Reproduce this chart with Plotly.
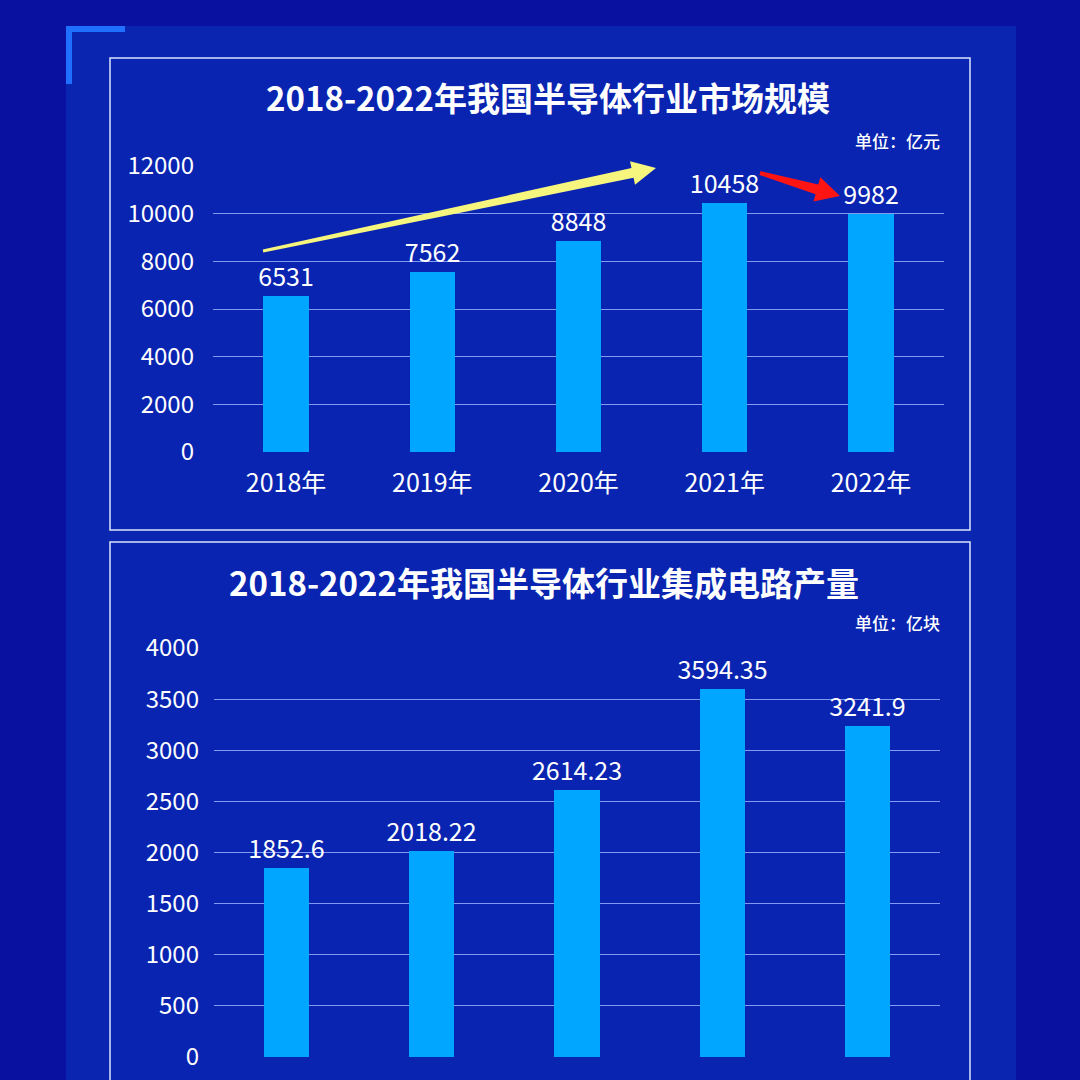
import math
import plotly.graph_objects as go

# ---------------- data ----------------
years = ["2018年", "2019年", "2020年", "2021年", "2022年"]
market_size = [6531, 7562, 8848, 10458, 9982]          # 亿元
ic_output = [1852.6, 2018.22, 2614.23, 3594.35, 3241.9]  # 亿块
top_ticks = [0, 2000, 4000, 6000, 8000, 10000, 12000]
bottom_ticks = [0, 500, 1000, 1500, 2000, 2500, 3000, 3500, 4000]
title_top = "2018-2022年我国半导体行业市场规模"
title_bottom = "2018-2022年我国半导体行业集成电路产量"
unit_top = "单位：亿元"
unit_bottom = "单位：亿块"

# ---------------- style ----------------
W = H = 1080
FONT = "Noto Sans CJK SC"
BAR = "#00a6ff"
GRID = "#8399f4"
OUTER_BG = "#0811a0"
PANEL_BG = "#0a26b1"
BOX_BG = "#0824b0"
WHITE = "#ffffff"


def px(x):
    return x / W


def py(y):
    return 1 - y / H


def arrow_path(tail, tip, head_len, head_half, shaft_half_tip, shaft_half_tail):
    (x0, y0), (x1, y1) = tail, tip
    dx, dy = x1 - x0, y1 - y0
    L = math.hypot(dx, dy)
    ux, uy = dx / L, dy / L
    nx, ny = -uy, ux
    bx, by = x1 - ux * head_len, y1 - uy * head_len
    pts = [
        (x0 + nx * shaft_half_tail, y0 + ny * shaft_half_tail),
        (bx + nx * shaft_half_tip, by + ny * shaft_half_tip),
        (bx + nx * head_half, by + ny * head_half),
        (x1, y1),
        (bx - nx * head_half, by - ny * head_half),
        (bx - nx * shaft_half_tip, by - ny * shaft_half_tip),
        (x0 - nx * shaft_half_tail, y0 - ny * shaft_half_tail),
    ]
    return "M " + " L ".join(f"{px(a):.5f},{py(b):.5f}" for a, b in pts) + " Z"


fig = go.Figure()

fig.add_trace(go.Bar(
    x=years, y=market_size, xaxis="x", yaxis="y",
    marker=dict(color=BAR, line=dict(width=0)), width=0.31,
    text=[f"{v:g}" for v in market_size], textposition="outside",
    constraintext="none",
    textfont=dict(family=FONT, size=25, color=WHITE), cliponaxis=False,
    hoverinfo="skip",
))
fig.add_trace(go.Bar(
    x=years, y=ic_output, xaxis="x2", yaxis="y2",
    marker=dict(color=BAR, line=dict(width=0)), width=0.31,
    text=[f"{v:g}" for v in ic_output], textposition="outside",
    constraintext="none",
    textfont=dict(family=FONT, size=25, color=WHITE), cliponaxis=False,
    hoverinfo="skip",
))

axis_common = dict(showline=False, zeroline=False, fixedrange=True, automargin=False)

shapes = [
    # inner lighter panel
    dict(type="rect", xref="paper", yref="paper", x0=px(66), x1=px(1016), y0=py(1100), y1=py(26),
         fillcolor=PANEL_BG, line=dict(width=0), layer="below"),
    # chart boxes
    dict(type="rect", xref="paper", yref="paper", x0=px(110), x1=px(970), y0=py(530), y1=py(58),
         fillcolor=BOX_BG, line=dict(color="#dce4ff", width=1.5), layer="below"),
    dict(type="rect", xref="paper", yref="paper", x0=px(110), x1=px(970), y0=py(1100), y1=py(542),
         fillcolor=BOX_BG, line=dict(color="#dce4ff", width=1.5), layer="below"),
    # corner accent
    dict(type="rect", xref="paper", yref="paper", x0=px(66), x1=px(125), y0=py(32), y1=py(26),
         fillcolor="#1f70ff", line=dict(width=0)),
    dict(type="rect", xref="paper", yref="paper", x0=px(66), x1=px(72), y0=py(84), y1=py(26),
         fillcolor="#1f70ff", line=dict(width=0)),
    # yellow trend arrow
    dict(type="path", xref="paper", yref="paper",
         path=arrow_path((263, 251), (656, 168), 24, 12, 5, 1.5),
         fillcolor="#f6f57e", line=dict(width=0)),
    # red arrow
    dict(type="path", xref="paper", yref="paper",
         path=arrow_path((760, 173), (840, 196), 24, 12.5, 5, 2),
         fillcolor="#ff1414", line=dict(width=0)),
]

annotations = [
    dict(text=title_top, xref="paper", yref="paper", x=px(548), y=py(97), showarrow=False,
         xanchor="center", yanchor="middle",
         font=dict(family=FONT, size=33, color=WHITE, weight="bold")),
    dict(text=title_bottom, xref="paper", yref="paper", x=px(544), y=py(582), showarrow=False,
         xanchor="center", yanchor="middle",
         font=dict(family=FONT, size=33, color=WHITE, weight="bold")),
    dict(text=unit_top, xref="paper", yref="paper", x=px(942), y=py(140), showarrow=False,
         xanchor="right", yanchor="middle",
         font=dict(family=FONT, size=17, color=WHITE, weight=500)),
    dict(text=unit_bottom, xref="paper", yref="paper", x=px(942), y=py(622), showarrow=False,
         xanchor="right", yanchor="middle",
         font=dict(family=FONT, size=17, color=WHITE, weight=500)),
]

fig.update_layout(
    width=W, height=H,
    margin=dict(l=0, r=0, t=0, b=0, pad=0, autoexpand=False),
    paper_bgcolor=OUTER_BG, plot_bgcolor="rgba(0,0,0,0)",
    showlegend=False, bargap=0,
    font=dict(family=FONT, color=WHITE),
    xaxis=dict(domain=[px(213), px(944)], anchor="y", range=[-0.5, 4.5],
               showgrid=False, ticks="", ticklabelstandoff=14,
               tickfont=dict(family=FONT, size=25, color=WHITE), **axis_common),
    yaxis=dict(domain=[py(452), py(166)], anchor="x", range=[0, 12000],
               tickvals=top_ticks, ticktext=[str(t) for t in top_ticks],
               showgrid=True, gridcolor=GRID, gridwidth=1, ticks="",
               ticklabelstandoff=18,
               tickfont=dict(family=FONT, size=24, color=WHITE), **axis_common),
    xaxis2=dict(domain=[px(214), px(940)], anchor="y2", range=[-0.5, 4.5],
                showgrid=False, ticks="", showticklabels=False, **axis_common),
    yaxis2=dict(domain=[py(1057), py(648)], anchor="x2", range=[0, 4000],
                tickvals=bottom_ticks, ticktext=[str(t) for t in bottom_ticks],
                showgrid=True, gridcolor=GRID, gridwidth=1, ticks="",
                ticklabelstandoff=14,
                tickfont=dict(family=FONT, size=24, color=WHITE), **axis_common),
    shapes=shapes,
    annotations=annotations,
)

fig.write_html("out.html")
